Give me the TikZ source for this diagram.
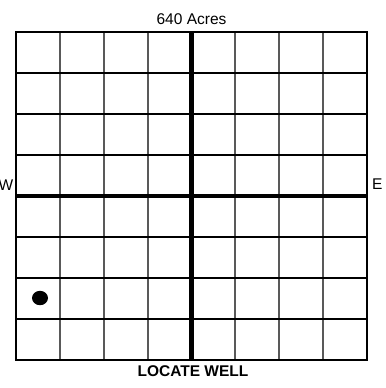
\documentclass[tikz,border=0pt]{standalone}
\usepackage{fontspec}
\setmainfont{Liberation Sans}
\begin{document}
\begin{tikzpicture}[x=1bp,y=-1bp,
  thinv/.style={draw=black!65,line width=1.1bp},
  thinh/.style={draw=black,line width=1.8bp},
  heavy/.style={draw=black,line width=4.8bp},
  frame/.style={draw=black,line width=2.2bp},
  lbl/.style={inner sep=0pt,font=\fontsize{15.5bp}{17bp}\selectfont},
  blbl/.style={inner sep=0pt,font=\fontsize{15.5bp}{17bp}\selectfont\bfseries}]
\useasboundingbox (0,0) rectangle (386,388);
% vertical thin lines
\foreach \x in {60,104,148,235,279,323}
  \draw[thinv] (\x,32) -- (\x,360);
% horizontal thin lines
\foreach \y in {73,114,155,237,278,319}
  \draw[thinh] (16,\y) -- (367,\y);
% heavy centre lines
\coordinate (vt) at (191.5,32);
\coordinate (vb) at (191.5,360);
\coordinate (hl) at (16,196);
\coordinate (hr) at (367,196);
\draw[heavy] (vt) -- (vb);
\draw[heavy] (hl) -- (hr);
% frame
\draw[frame] (16,32) rectangle (367,360);
% well
\fill[black] (40,298) ellipse (8 and 7.2);
% labels
\node[lbl] (acres) at (191.5,19) {640 Acres};
\node[blbl] (locate) at (193,371.5) {LOCATE WELL};
\node[lbl,anchor=east] (w) at (13.5,185) {W};
\node[lbl,anchor=west] (e) at (372,184) {E};
\end{tikzpicture}
\end{document}
